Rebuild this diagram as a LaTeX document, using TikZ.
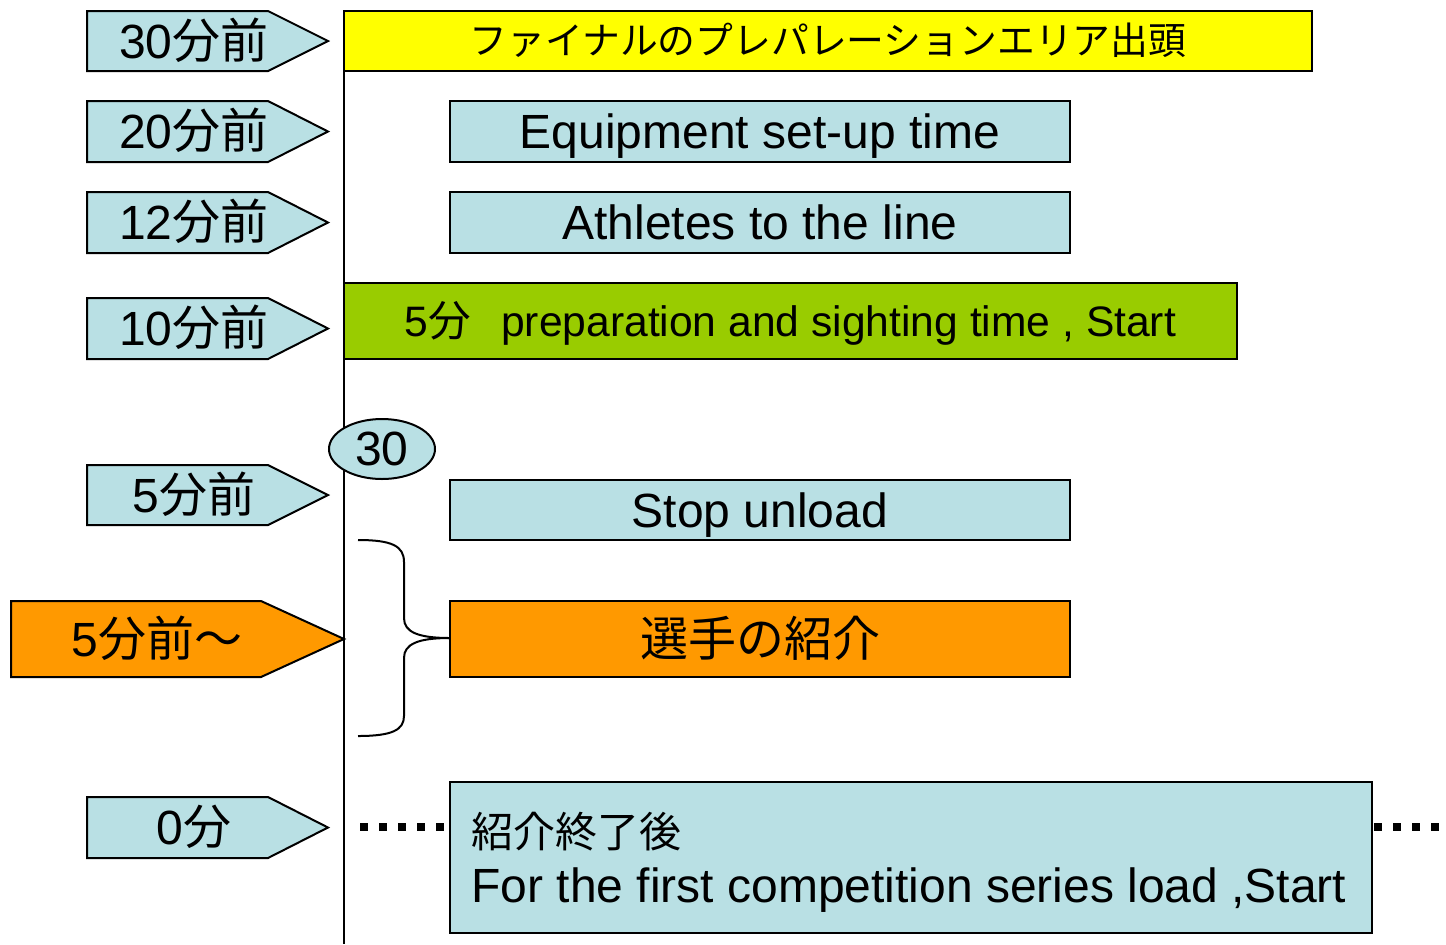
\documentclass[tikz,border=0pt]{standalone}
\usepackage{fontspec}
\setmainfont{Liberation Sans}
\newfontfamily\jp{Noto Sans CJK JP}
\usetikzlibrary{shapes.geometric}
\definecolor{lblue}{RGB}{185,224,228}
\definecolor{lgreen}{RGB}{153,204,0}
\definecolor{lorange}{RGB}{255,153,0}
\definecolor{lyellow}{RGB}{255,255,0}
\begin{document}
\begin{tikzpicture}[x=0.5pt,y=-0.5pt,
  tagshape/.style={draw=black, line width=1pt, line join=miter},
  txt/.style={inner sep=0pt, font=\fontsize{24}{28}\selectfont, text height=17.2pt, text depth=0pt},
  box/.style={draw=black, line width=1pt, fill=lblue, inner sep=0pt, font=\fontsize{24}{28}\selectfont, text height=17.2pt, text depth=0pt},
  dots/.style={line width=4pt, dash pattern=on 4pt off 5.5pt},
  bline/.style={line width=1pt}]
\useasboundingbox (0,0) rectangle (1446,944);
\fill[white] (0,0) rectangle (1446,944);

% vertical time line
\coordinate (vtop) at (344,11);
\coordinate (vbot) at (344,944);
\draw[bline] (vtop) -- (vbot);

% left tags
\draw[tagshape, fill=lblue] (87,11) -- (268,11) -- (328,41) -- (268,71) -- (87,71) -- cycle;
\node[txt] (t30) at (194,41) {30{\jp 分前}};
\draw[tagshape, fill=lblue] (87,101) -- (268,101) -- (328,131.5) -- (268,162) -- (87,162) -- cycle;
\node[txt] (t20) at (194,131.5) {20{\jp 分前}};
\draw[tagshape, fill=lblue] (87,192) -- (268,192) -- (328,222.5) -- (268,253) -- (87,253) -- cycle;
\node[txt] (t12) at (194,222.5) {12{\jp 分前}};
\draw[tagshape, fill=lblue] (87,298) -- (268,298) -- (328,328.5) -- (268,359) -- (87,359) -- cycle;
\node[txt] (t10) at (194,328.5) {10{\jp 分前}};
\draw[tagshape, fill=lblue] (87,465) -- (268,465) -- (328,495) -- (268,525) -- (87,525) -- cycle;
\node[txt] (t5) at (194,495) {5{\jp 分前}};
\draw[tagshape, fill=lorange] (11,601) -- (261,601) -- (344,639) -- (261,677) -- (11,677) -- cycle;
\node[txt] (t5o) at (157,639) {5{\jp 分前～}};
\draw[tagshape, fill=lblue] (87,797) -- (268,797) -- (328,827.5) -- (268,858) -- (87,858) -- cycle;
\node[txt] (t0) at (194,827.5) {0{\jp 分}};

% right boxes
\node[box, fill=lyellow, minimum width=484pt, minimum height=30pt, font=\fontsize{18.9}{22}\selectfont, text height=13.5pt] (yellow) at (828,41) {\jp ファイナルのプレパレーションエリア出頭};
\node[box, minimum width=310pt, minimum height=30.5pt] (equip) at (760,131.5) {Equipment set-up time};
\node[box, minimum width=310pt, minimum height=30.5pt] (athl) at (760,222.5) {Athletes to the line};
\node[box, fill=lgreen, minimum width=446.5pt, minimum height=38pt, font=\fontsize{21.3}{25}\selectfont, text height=15.25pt] (green) at (790.5,321) {5{\jp 分}\hspace{15pt}preparation and sighting time , Start};
\node[ellipse, draw=black, line width=1pt, fill=lblue, inner sep=0pt, minimum width=53pt, minimum height=30pt, font=\fontsize{24}{28}\selectfont] (e30) at (382,449) {30};
\node[box, minimum width=310pt, minimum height=30pt] (stop) at (760,510) {Stop unload};
\node[box, fill=lorange, minimum width=310pt, minimum height=38pt] (intro) at (760,639) {\jp 選手の紹介};
\node[box, minimum width=461pt, minimum height=75.5pt] (final) at (911,857.5) {};
\node[txt, anchor=west, font=\fontsize{21}{24}\selectfont, text height=15pt] (fjp) at (471,832) {\jp 紹介終了後};
\node[txt, anchor=west] (fen) at (471,885) {For the first competition series load ,Start};

% brace
\coordinate (bt) at (358,540);
\coordinate (bb) at (358,736);
\coordinate (bm) at (450,638);
\draw[bline] (bt) .. controls (392,540) and (404,546) .. (404,562) -- (404,618) .. controls (404,632) and (418,638) .. (bm);
\draw[bline] (bm) .. controls (418,638) and (404,644) .. (404,658) -- (404,716) .. controls (404,730) and (392,736) .. (bb);

% dotted lines
\coordinate (dl1) at (360,827);
\coordinate (dl2) at (446,827);
\coordinate (dr1) at (1374,827);
\coordinate (dr2) at (1446,827);
\draw[dots] (dl1) -- (dl2);
\draw[dots] (dr1) -- (dr2);
\end{tikzpicture}
\end{document}
